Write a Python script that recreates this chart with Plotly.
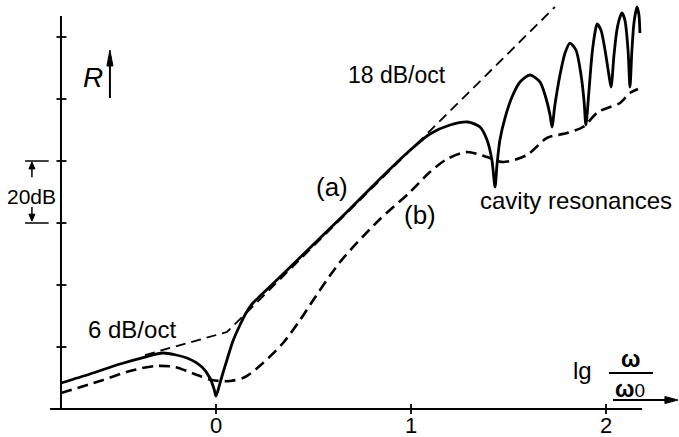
import plotly.graph_objects as go

# Frequency axis: lg(omega/omega0); level axis: R in dB
x_ticks = [0, 1, 2]
x_tick_labels = ["0", "1", "2"]
y_ticks = [20, 40, 60, 80, 100, 120]

# (a) single-leaf behaviour with cavity resonances
a_x = [-0.795, -0.646, -0.492, -0.364, -0.272, -0.149, -0.072, -0.031, -0.010, 0.000,
       0.015, 0.031, 0.056, 0.087, 0.123, 0.154, 0.185, 0.226, 0.344, 0.518, 0.687,
       0.856, 0.985, 1.097, 1.200, 1.292, 1.354, 1.390, 1.415, 1.431, 1.441,
       1.456, 1.482, 1.518, 1.559, 1.610, 1.662, 1.692, 1.713, 1.723, 1.738,
       1.764, 1.790, 1.815, 1.846, 1.872, 1.887, 1.897, 1.913, 1.928, 1.944,
       1.954, 1.974, 1.995, 2.015, 2.026, 2.041, 2.056, 2.072, 2.082, 2.097,
       2.113, 2.123, 2.133, 2.144, 2.159, 2.169, 2.174]
a_y = [8.39, 11.29, 14.52, 16.77, 18.06, 16.45, 13.55, 10.00, 6.45, 4.19,
       7.10, 10.65, 15.81, 21.94, 27.10, 30.97, 33.87, 36.45, 43.55, 54.19, 64.52,
       75.16, 82.90, 88.71, 91.61, 92.58, 90.97, 86.77, 80.32, 71.61, 78.71,
       86.77, 93.87, 100.65, 105.48, 107.74, 105.48, 100.32, 94.84, 90.97, 98.06,
       107.74, 114.84, 118.06, 115.81, 107.74, 99.68, 91.61, 102.90, 114.19, 121.61,
       124.19, 122.26, 115.81, 107.74, 103.87, 114.19, 122.26, 126.45, 127.74, 125.48,
       115.81, 103.87, 115.81, 124.84, 129.68, 127.10, 121.29]

# (b) damped cavity
b_x = [-0.795, -0.595, -0.441, -0.313, -0.210, -0.097, -0.021, 0.072, 0.149, 0.241,
       0.344, 0.431, 0.492, 0.636, 0.831, 0.995, 1.097, 1.185, 1.287, 1.390,
       1.472, 1.595, 1.697, 1.800, 1.882, 1.959, 2.021, 2.072, 2.123, 2.164]
b_y = [5.16, 9.03, 12.26, 13.87, 13.55, 10.97, 9.35, 9.03, 10.32, 14.84,
       21.29, 28.71, 34.52, 47.42, 60.65, 70.00, 76.45, 80.65, 82.90, 81.29,
       79.68, 81.94, 87.42, 89.03, 90.97, 95.81, 97.42, 98.71, 101.94, 103.23]

# asymptotes: 6 dB/oct below the corner, 18 dB/oct above it
asym_x = [-0.364, 0.056, 1.738]
asym_y = [17.42, 24.84, 129.68]

X_RANGE = [-1.1077, 2.3744]
Y_RANGE = [-9.03, 131.94]
AX_X0, AX_X1 = -0.851, 2.185      # extent of the frequency axis
AX_YTOP = 126.8                   # top of the level axis
Y_AXIS_X = -0.795                 # where the level axis stands

# data units per screen pixel, used to size arrowheads and tick marks
PX_X = (X_RANGE[1] - X_RANGE[0]) / 679
PX_Y = (Y_RANGE[1] - Y_RANGE[0]) / 437

FONT = "Liberation Sans, Arial, sans-serif"
INK = "black"

fig = go.Figure()
fig.add_trace(go.Scatter(x=asym_x, y=asym_y, mode="lines",
                         line=dict(color=INK, width=1.8, dash="10px,6px"),
                         hoverinfo="skip"))
fig.add_trace(go.Scatter(x=b_x, y=b_y, mode="lines",
                         line=dict(color=INK, width=2.6, dash="11px,6px",
                                   shape="spline", smoothing=0.8),
                         hoverinfo="skip"))
fig.add_trace(go.Scatter(x=a_x, y=a_y, mode="lines",
                         line=dict(color=INK, width=2.8, shape="spline", smoothing=0.75),
                         hoverinfo="skip"))

shapes = []


def seg(x0, y0, x1, y1, width=2):
    shapes.append(dict(type="line", xref="x", yref="y", x0=x0, x1=x1, y0=y0, y1=y1,
                       line=dict(color=INK, width=width)))


def head(tip_x, tip_y, dir_x, dir_y, length, half):
    """Filled triangular arrowhead; length and half-width in pixels."""
    bx = tip_x - dir_x * length * PX_X
    by = tip_y - dir_y * length * PX_Y
    px, py = -dir_y * half * PX_X, dir_x * half * PX_Y
    path = (f"M{tip_x},{tip_y} L{bx + px},{by + py} L{bx - px},{by - py} Z")
    shapes.append(dict(type="path", xref="x", yref="y", path=path,
                       fillcolor=INK, line=dict(color=INK, width=1)))
    return bx, by


# axes
seg(AX_X0, 0, AX_X1, 0)
seg(Y_AXIS_X, 0, Y_AXIS_X, AX_YTOP)
# ticks crossing the axes
for t in x_ticks:
    seg(t, -5 * PX_Y, t, 5 * PX_Y, width=1.8)
for t in y_ticks:
    seg(Y_AXIS_X - 4.5 * PX_X, t, Y_AXIS_X + 5.5 * PX_X, t, width=1.8)
# 20 dB dimension marks
for t in (y_ticks[2], y_ticks[3]):
    seg(-0.979, t, -0.858, t, width=1.5)
# fraction bar of omega/omega0
seg(2.015, 11.6, 2.241, 11.6, width=2)

# R arrow
bx, by = head(-0.544, 115.8, 0, 1, 16, 3)
seg(-0.544, 100.3, -0.544, by, width=2)
# 20 dB dimension arrows
bx, by = head(-0.944, 79.7, 0, 1, 7, 3)
seg(-0.944, 74.8, -0.944, by, width=1.5)
bx, by = head(-0.944, 60.6, 0, -1, 7, 3)
seg(-0.944, 65.2, -0.944, by, width=1.5)
# direction of increasing frequency
bx, by = head(2.369, 2.9, 1, 0, 13, 3.5)
seg(2.036, 2.9, bx, 2.9, width=2)

ann = []
for t, lab in zip(x_ticks, x_tick_labels):
    ann.append(dict(x=t, y=-5.2, text=lab, showarrow=False, font=dict(size=22)))


def label(x, y, text, size=23):
    ann.append(dict(x=x, y=y, text=text, showarrow=False, font=dict(size=size)))


label(0.928, 107.7, "18 dB/oct")
label(-0.431, 25.5, "6 dB/oct", size=24)
label(0.595, 71.6, "(a)", size=26)
label(1.046, 62.6, "(b)", size=26)
label(1.846, 67.4, "cavity resonances", size=24)
label(-0.944, 68.7, "20dB", size=21)
label(-0.631, 106.8, "<i>R</i>", size=28)
label(1.882, 12.3, "lg", size=24)
label(2.128, 16.0, "<b>ω</b>", size=23)
label(2.123, 6.4, "<b>ω</b><span style='font-size:19px'>0</span>", size=23)

fig.update_layout(
    width=679, height=437,
    margin=dict(l=0, r=0, t=0, b=0),
    paper_bgcolor="white", plot_bgcolor="white",
    showlegend=False,
    font=dict(family=FONT, color=INK),
    xaxis=dict(range=X_RANGE, visible=False, fixedrange=True),
    yaxis=dict(range=Y_RANGE, visible=False, fixedrange=True),
    shapes=shapes, annotations=ann,
)

fig.write_html("out.html")
